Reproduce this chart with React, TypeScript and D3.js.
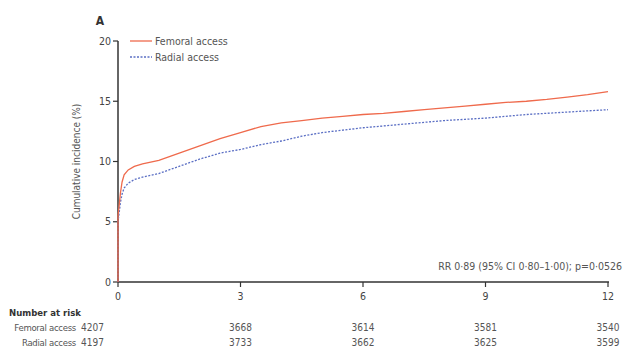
import React from "react";
import * as d3 from "d3";

const months = [0, 0.0, 0.03, 0.06, 0.1, 0.15, 0.25, 0.4, 0.6, 1.0, 1.5, 2.0, 2.5, 3.0, 3.5, 4.0, 4.5, 5.0, 5.5, 6.0, 6.5, 7.0, 7.5, 8.0, 8.5, 9.0, 9.5, 10.0, 10.5, 11.0, 11.5, 12.0];
const femoral = [0, 5.5, 6.4, 7.4, 8.3, 8.9, 9.3, 9.6, 9.8, 10.1, 10.7, 11.3, 11.9, 12.4, 12.9, 13.2, 13.4, 13.6, 13.75, 13.9, 14.0, 14.15, 14.3, 14.45, 14.6, 14.75, 14.9, 15.0, 15.15, 15.35, 15.55, 15.8];
const radial = [0, 5.0, 5.8, 6.6, 7.3, 7.8, 8.2, 8.5, 8.7, 9.0, 9.6, 10.2, 10.7, 11.0, 11.4, 11.7, 12.1, 12.4, 12.6, 12.8, 12.95, 13.1, 13.25, 13.4, 13.5, 13.6, 13.75, 13.9, 14.0, 14.1, 14.2, 14.3];

const yTicks = [0, 5, 10, 15, 20];
const xTicks = [0, 3, 6, 9, 12];
const riskFemoral = ["4207", "3668", "3614", "3581", "3540"];
const riskRadial = ["4197", "3733", "3662", "3625", "3599"];
const seriesNames = ["Femoral access", "Radial access"];
const statText = "RR 0·89 (95% CI 0·80–1·00); p=0·0526";

const FONT = "'DejaVu Sans Condensed', 'Liberation Sans Narrow', 'Open Sans', sans-serif";
const RED = "#ef6a4c";
const BLUE = "#5b6fc4";
const AX = "#333";

export default function App() {
  const x = d3.scaleLinear().domain([0, 12]).range([118, 608]);
  const y = d3.scaleLinear().domain([0, 20]).range([282, 41]);
  const line = d3.line<number>().x((_, i) => x(months[i])).y((d) => y(d)).curve(d3.curveLinear);

  return (
    <svg width={626} height={352} style={{ position: "absolute", left: 0, top: 0, background: "#fff" }} fontFamily={FONT}>
      <text x={100} y={25} fontSize={12} fontWeight="bold" fill="#333" textAnchor="middle">A</text>
      <line x1={x(0)} x2={x(0)} y1={y(20)} y2={y(0)} stroke={AX} strokeWidth={1.5} />
      {yTicks.map((t) => (
        <g key={t}>
          <line x1={x(0) - 5} x2={x(0)} y1={y(t)} y2={y(t)} stroke={AX} strokeWidth={1.2} />
          <text x={x(0) - 7} y={y(t)} dy="0.35em" fontSize={10.5} textAnchor="end" fill="#444">{t}</text>
        </g>
      ))}
      <line x1={x(0)} x2={x(12) + 1} y1={y(0)} y2={y(0)} stroke={AX} strokeWidth={1.5} />
      {xTicks.map((t) => (
        <g key={t}>
          <line x1={x(t)} x2={x(t)} y1={y(0)} y2={y(0) + 5} stroke={AX} strokeWidth={1.2} />
          <text x={x(t)} y={y(0) + 18} fontSize={10.5} textAnchor="middle" fill="#444">{t}</text>
        </g>
      ))}
      <text transform={`translate(80,${y(10)}) rotate(-90)`} fontSize={10} textAnchor="middle" fill="#555">Cumulative incidence (%)</text>
      <path d={line(radial) || ""} fill="none" stroke={BLUE} strokeWidth={1.3} strokeDasharray="2,1.5" />
      <path d={line(femoral) || ""} fill="none" stroke={RED} strokeWidth={1.3} />
      <line x1={130} x2={152} y1={41} y2={41} stroke={RED} strokeWidth={1.3} />
      <text x={155} y={41} dy="0.35em" fontSize={10.5} fill="#555">{seriesNames[0]}</text>
      <line x1={130} x2={152} y1={57} y2={57} stroke={BLUE} strokeWidth={1.3} strokeDasharray="2,1.5" />
      <text x={155} y={57} dy="0.35em" fontSize={10.5} fill="#555">{seriesNames[1]}</text>
      <text x={622} y={270} fontSize={10.5} textAnchor="end" fill="#555">{statText}</text>
      <text x={9} y={316} fontSize={9.5} fontWeight="bold" fill="#333">Number at risk</text>
      <text x={76} y={331} fontSize={9.5} textAnchor="end" fill="#555" letterSpacing={-0.3}>{seriesNames[0]}</text>
      <text x={76} y={346} fontSize={9.5} textAnchor="end" fill="#555" letterSpacing={-0.3}>{seriesNames[1]}</text>
      {xTicks.map((t, i) => (
        <g key={t}>
          <text x={i === 0 ? 81 : x(t)} y={331} fontSize={10} textAnchor={i === 0 ? "start" : "middle"} fill="#555">{riskFemoral[i]}</text>
          <text x={i === 0 ? 81 : x(t)} y={346} fontSize={10} textAnchor={i === 0 ? "start" : "middle"} fill="#555">{riskRadial[i]}</text>
        </g>
      ))}
    </svg>
  );
}
